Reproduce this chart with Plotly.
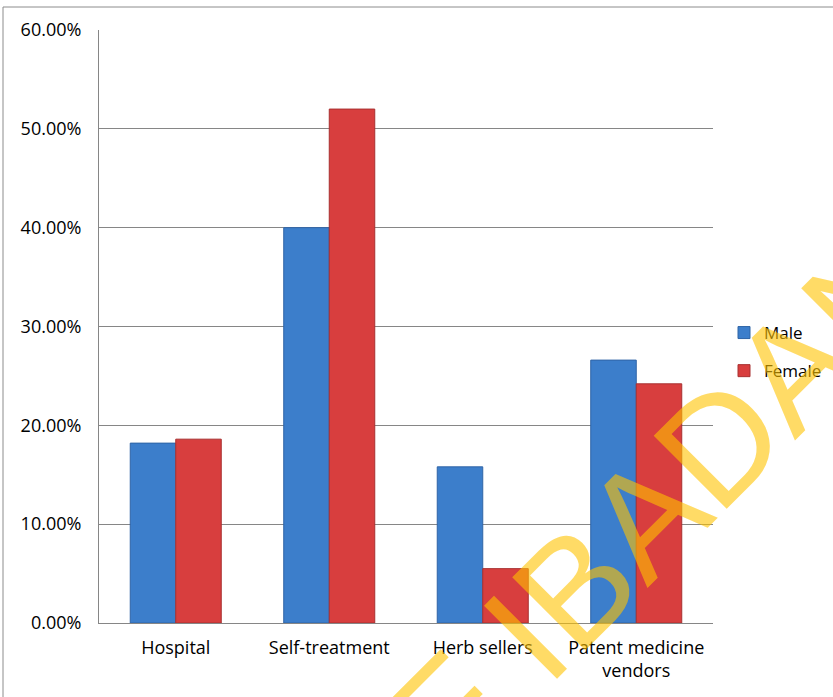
import plotly.graph_objects as go

# Preferred source of treatment, by sex
categories = ["Hospital", "Self-treatment", "Herb sellers", "Patent medicine<br>vendors"]
male = [0.182, 0.400, 0.158, 0.266]
female = [0.186, 0.520, 0.055, 0.242]
y_ticks = [0.0, 0.1, 0.2, 0.3, 0.4, 0.5, 0.6]

W, H = 833, 697
L, R, T, B = 99, 120, 30, 74
pw, ph = W - L - R, H - T - B


def px_x(x):
    return (x - L) / pw


def px_y(y):
    return (H - B - y) / ph


FONT = "Open Sans"
GRID = "#868686"

fig = go.Figure()
fig.add_trace(go.Bar(
    x=categories, y=male, name="Male", legendgroup="m",
    marker=dict(color="#3C7ECB", line=dict(color="#2F64A6", width=1)),
))
fig.add_trace(go.Bar(
    x=categories, y=female, name="Female", legendgroup="f",
    marker=dict(color="#D83E3E", line=dict(color="#A83030", width=1)),
))

fig.update_layout(
    width=W, height=H,
    margin=dict(l=L, r=R, t=T, b=B, autoexpand=False),
    paper_bgcolor="white", plot_bgcolor="white",
    barmode="group", bargap=0.407, bargroupgap=0,
    font=dict(family=FONT, size=18, color="#000000"),
    showlegend=True,
    legend=dict(
        x=px_x(724), y=px_y(315), xanchor="left", yanchor="top",
        font=dict(family=FONT, size=17, color="#000000"),
        traceorder="grouped", tracegroupgap=13,
        bgcolor="rgba(0,0,0,0)", itemwidth=30,
    ),
    xaxis=dict(
        showline=True, linecolor=GRID, linewidth=1,
        ticks="outside", ticklen=8, tickcolor="rgba(0,0,0,0)",
        showgrid=False, fixedrange=True,
        tickfont=dict(family=FONT, size=18),
    ),
    yaxis=dict(
        range=[0, 0.6], tickvals=y_ticks, tickformat=".2%",
        showline=True, linecolor=GRID, linewidth=1,
        showgrid=True, gridcolor=GRID, gridwidth=1,
        zeroline=False,
        ticks="outside", ticklen=13, tickcolor="rgba(0,0,0,0)",
        tickfont=dict(family=FONT, size=18),
    ),
)

# outer chart frame
fig.add_shape(
    type="rect", xref="paper", yref="paper",
    x0=px_x(3), x1=px_x(W + 20), y0=px_y(H + 20), y1=px_y(7),
    line=dict(color="#8C8C8C", width=1), fillcolor="rgba(0,0,0,0)",
    layer="below",
)

# library watermark
fig.add_annotation(
    text="UNIVERSITY OF IBADAN LIBRARY",
    xref="paper", yref="paper", x=px_x(528), y=px_y(634),
    xanchor="center", yanchor="middle",
    showarrow=False, textangle=-45,
    font=dict(family="Liberation Sans", size=150, color="rgba(255,195,0,0.6)"),
)

fig.write_html("out.html")
